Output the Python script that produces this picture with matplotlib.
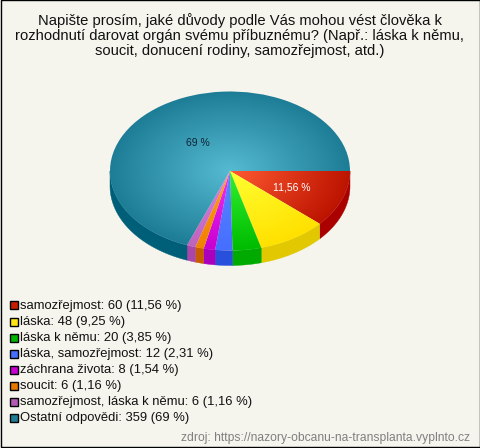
import numpy as np
import matplotlib
matplotlib.use("Agg")
import matplotlib.pyplot as plt
from matplotlib.patches import Rectangle, Polygon
from matplotlib.colors import LinearSegmentedColormap

plt.rcParams['font.family'] = ['Liberation Sans', 'DejaVu Sans']

title_lines = ["Napište prosím, jaké důvody podle Vás mohou vést člověka k",
               "rozhodnutí darovat orgán svému příbuznému? (Např.: láska k němu,",
               "soucit, donucení rodiny, samozřejmost, atd.)"]
categories = ["samozřejmost", "láska", "láska k němu", "láska, samozřejmost",
              "záchrana života", "soucit", "samozřejmost, láska k němu", "Ostatní odpovědi"]
counts = [60, 48, 20, 12, 8, 6, 6, 359]
percent_labels = ["11,56 %", "9,25 %", "3,85 %", "2,31 %", "1,54 %", "1,16 %", "1,16 %", "69 %"]
inner_colors = ["#ff5a32", "#ffff32", "#32f032", "#5a87ff", "#f032f0", "#ffa01e", "#dc82dc", "#55bbd2"]
outer_colors = ["#bc1400", "#ffe100", "#00bc00", "#466eff", "#c800d2", "#f08200", "#be64be", "#1e7d96"]
side_colors = ["#aa0000", "#e1c800", "#00aa00", "#2850dc", "#aa00be", "#c85a00", "#aa46aa", "#005f78"]
legend_colors = ["#c81e00", "#ffe614", "#00b400", "#466eff", "#c800d2", "#e67800", "#b45ab4", "#1e7d96"]
source = "zdroj: https://nazory-obcanu-na-transplanta.vyplnto.cz"

W, H = 480, 448
BG = "#f5f5ee"
fig = plt.figure(figsize=(W / 100, H / 100), dpi=100, facecolor=BG)

# pie axes: bbox of the top ellipse in pixels
cx, cy, rx, ry, depth = 230, 171, 120, 79.5, 15
ax = fig.add_axes([(cx - rx) / W, 1 - (cy + ry) / H, 2 * rx / W, 2 * ry / H])
wedges, _ = ax.pie(counts, startangle=0, counterclock=False, radius=1)
ax.set_aspect('auto')

xx, yy = np.meshgrid(np.linspace(-1, 1, 480), np.linspace(-1, 1, 320))
rr = np.clip(np.hypot(xx, yy), 0, 1)
d = depth / ry
for w, ci, co, cs in zip(wedges, inner_colors, outer_colors, side_colors):
    w.set_visible(False)
    t1, t2 = max(w.theta1, -180), min(w.theta2, 0)
    if t2 > t1:
        t = np.radians(np.linspace(t1, t2, 80))
        top = np.c_[np.cos(t), np.sin(t)]
        bot = top[::-1] - [0, d]
        ax.add_patch(Polygon(np.vstack([top, bot]), closed=True, fc=cs, ec=cs, lw=0.3,
                             clip_on=False, zorder=1))
    cmap = LinearSegmentedColormap.from_list("g", [ci, co])
    im = ax.imshow(rr, cmap=cmap, vmin=0, vmax=1, extent=(-1, 1, -1, 1), origin='lower',
                   aspect='auto', zorder=2, interpolation='bilinear')
    im.set_clip_path(w)
ax.set_xlim(-1, 1)
ax.set_ylim(-1, 1)
ax.axis('off')

# overlay in pixel coordinates
ov = fig.add_axes([0, 0, 1, 1], facecolor='none')
ov.set_xlim(0, W)
ov.set_ylim(H, 0)
ov.axis('off')

for y, line in zip([21, 36, 51.5], title_lines):
    ov.text(239.5, y, line, ha='center', va='center', fontsize=10.6, color='#111111')

ov.text(198, 143.5, percent_labels[7], ha='center', va='center', fontsize=7.5, color='#112233')
ov.text(292, 187.5, percent_labels[0], ha='center', va='center', fontsize=7.5, color='white')

for i, (c, n, p, col) in enumerate(zip(categories, counts, percent_labels, legend_colors)):
    y = 305.5 + i * 16.05
    ov.add_patch(Rectangle((9.5, y - 4), 8, 8, fc=col, ec='black', lw=1))
    ov.text(20, y + 0.5, f"{c}: {n} ({p})", ha='left', va='center', fontsize=9.4, color='#111111')

ov.text(470, 437.5, source, ha='right', va='center', fontsize=8.7, color='#808080')
ov.add_patch(Rectangle((0.5, 0.5), W - 1, H - 1, fc='none', ec='black', lw=1, clip_on=False))

fig.savefig("out.png", dpi=100, facecolor=BG)
